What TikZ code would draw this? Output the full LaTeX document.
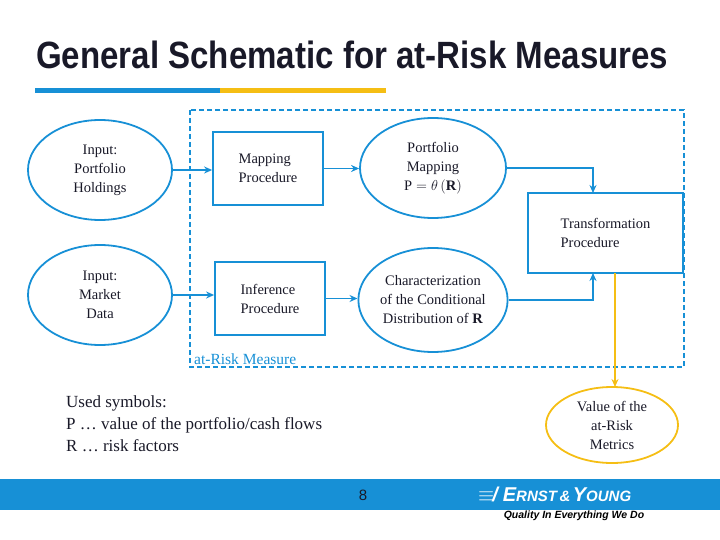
\documentclass[tikz,border=0pt]{standalone}
\usepackage{fontspec}
\setmainfont{Liberation Serif}
\newfontfamily\titlefont{Liberation Sans}[FakeStretch=0.87]
\newfontfamily\sansf{Liberation Sans}
\usetikzlibrary{shapes.geometric,arrows.meta}
\definecolor{eyblue}{RGB}{23,144,214}
\definecolor{eyyellow}{RGB}{245,190,20}
\definecolor{txt}{RGB}{25,25,40}
\tikzset{
  ell/.style={draw=eyblue,line width=1.8pt,ellipse,minimum width=144pt,minimum height=100pt,align=center,font=\fontsize{14.5}{19}\selectfont,text=txt,inner sep=0pt},
  box/.style={draw=eyblue,line width=1.8pt,rectangle,align=left,font=\fontsize{14.5}{19}\selectfont,text=txt},
  conn/.style={draw=eyblue,line width=1.6pt,-{Stealth[length=8pt,width=7pt]}}
}
\begin{document}
\begin{tikzpicture}[x=1pt,y=-1pt]
\useasboundingbox (0,0) rectangle (720,540);
\node[anchor=west,font=\titlefont\bfseries\fontsize{38}{40}\selectfont,text=txt,inner sep=0pt] (title) at (36,55) {General Schematic for at-Risk Measures};
\fill[eyblue] (35,88) rectangle (220,93);
\fill[eyyellow] (220,88) rectangle (386,93);
\draw[eyblue,line width=1.5pt,dash pattern=on 5pt off 3pt] (190,110) rectangle (684,367);
\node[anchor=south west,text=eyblue,font=\fontsize{15.5}{18}\selectfont,inner sep=1pt] (arm) at (193,366) {at-Risk Measure};
\node[ell] (inp) at (100,170) {Input:\\Portfolio\\Holdings};
\node[ell] (inm) at (100,295) {Input:\\Market\\Data};
\node[box,minimum width=110pt,minimum height=73pt] (map) at (268,168.5) {Mapping\\Procedure};
\node[box,minimum width=110pt,minimum height=73pt] (inf) at (270,298.5) {Inference\\Procedure};
\node[ell,minimum width=146pt,minimum height=100pt] (pm) at (433,168) {Portfolio\\Mapping\\$\mathrm{P}=\theta\,(\mathbf{R})$};
\node[ell,minimum width=144pt,minimum height=104pt] (cd) at (433,300) {Characterization\\of the Conditional\\Distribution of \textbf{R}};
\node[box,minimum width=155pt,minimum height=80pt] (tr) at (605.5,233) {Transformation\\Procedure};
\node[ell,draw=eyyellow,minimum width=132pt,minimum height=76pt] (val) at (612,425) {Value of the\\at-Risk\\Metrics};
\draw[conn] (inp.east) -- (inp.east -| map.west);
\draw[conn] (map.east) -- (map.east -| pm.west);
\draw[conn] (inm.east) -- (inm.east -| inf.west);
\draw[conn] (inf.east) -- (inf.east -| cd.west);
\draw[conn] (pm.east) -| (593,193);
\draw[conn] (cd.east) -| (593,273);
\draw[eyyellow,line width=1.6pt,-{Stealth[length=8pt,width=7pt]}] (615,273) -- (615,387);
\node[anchor=north west,align=left,font=\fontsize{17}{22}\selectfont,text=txt,inner sep=0pt] (sym) at (66,396) {Used symbols:\\P \dots\ value of the portfolio/cash flows\\R \dots\ risk factors};
\fill[eyblue] (0,479) rectangle (720,510);
\node[font=\sansf\fontsize{15}{17}\selectfont,text=txt] (pg) at (363,495) {8};
\node[anchor=west,text=white,font=\sansf\bfseries\itshape,inner sep=0pt] (ey) at (478,494) {\fontsize{20}{22}\selectfont $\equiv$\kern-2pt/\kern5pt E\fontsize{15}{17}\selectfont RNST\,\&\,\fontsize{20}{22}\selectfont Y\fontsize{15}{17}\selectfont OUNG};
\node[font=\sansf\bfseries\itshape\fontsize{10.5}{12}\selectfont,text=black,inner sep=0pt] (tag) at (574,516) {Quality In Everything We Do};
\end{tikzpicture}
\end{document}
